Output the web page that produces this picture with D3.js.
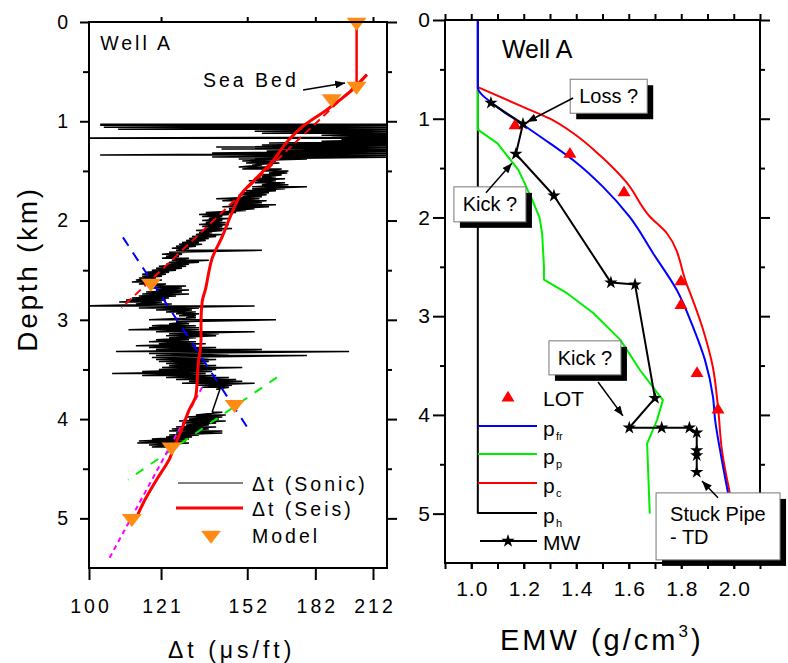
<!DOCTYPE html>
<html><head><meta charset="utf-8">
<script src="https://cdn.jsdelivr.net/npm/d3@7/dist/d3.min.js"></script>
<style>
html,body{margin:0;padding:0;background:#fff;}
svg{display:block;}
</style></head>
<body>
<svg id="chart" width="788" height="663"></svg>
<script>
// ================= LEFT PANEL DATA (Δt in µs/ft, depth in km) =================
const leftXTicks = [100, 121, 152, 182, 212];
const leftXTop = [121, 152, 182, 212];
const leftYTicks = [0, 1, 2, 3, 4, 5];
const leftYMinor = [0.5, 1.5, 2.5, 3.5, 4.5];

// Sonic log: per depth row, the left-most and right-most excursion of the trace
const sonicDepth = [1.03,1.04,1.06,1.08,1.10,1.12,1.14,1.16,1.17,1.18,
  1.20,1.22,1.24,1.26,1.28,1.30,1.32,1.34,1.36,1.38,
  1.40,1.42,1.44,1.46,1.48,1.50,1.52,1.54,1.56,1.58,
  1.60,1.62,1.64,1.66,1.68,1.70,1.72,1.74,1.76,1.78,
  1.80,1.82,1.84,1.86,1.88,1.90,1.92,1.94,1.96,1.98,
  2.00,2.02,2.04,2.06,2.08,2.10,2.12,2.14,2.16,2.18,
  2.20,2.22,2.24,2.26,2.28,2.30,2.32,2.34,2.36,2.38,
  2.40,2.42,2.44,2.46,2.48,2.50,2.52,2.54,2.56,2.58,
  2.60,2.62,2.64,2.66,2.68,2.70,2.72,2.74,2.76,2.78,
  2.80,2.82,2.84,2.86,2.88,2.90,2.92,2.94,2.96,2.98,
  3.00,3.02,3.04,3.06,3.08,3.10,3.12,3.14,3.16,3.18,
  3.20,3.22,3.24,3.26,3.28,3.30,3.32,3.34,3.36,3.38,
  3.40,3.42,3.44,3.46,3.48,3.50,3.52,3.54,3.56,3.58,
  3.60,3.62,3.64,3.66,3.68,3.70,3.93,3.96,3.98,4.00,
  4.02,4.04,4.06,4.08,4.10,4.12,4.14,4.16,4.18,4.20,
  4.22,4.24,4.26,4.28];
const sonicMin = [103,103,104,108,155,158,185,190,95,195,
  185,161,158,140,142,160,138.5,103,138.5,148.6,
  150,151.5,154,148.6,150,158,161,157,158,155,
  152.6,155,158,154,154,151.5,150,148.6,150,140,
  142.3,146,144.8,142.3,144.8,144.8,136.2,133.8,134.9,137.3,
  134.9,136.2,133.8,134.9,136.2,132.7,133.8,132.7,131.3,130.3,
  129.3,127.9,126.9,125.9,124.5,125.9,123.6,121.3,122.6,121.3,
  124.5,123.6,122.6,120.3,119.4,118.1,116.3,115.1,115.1,114.1,
  113.2,112,114.1,117.2,118.1,119.4,116.3,115.1,114.1,112,
  110.3,108.3,113.2,97,114.1,119.4,122.6,125.9,126.9,129.3,
  117.2,125.9,123.6,118.1,117.2,111,119.4,123.6,122.6,123.6,
  119.4,117.2,120.3,113.2,117.2,119.4,107.4,117.2,119.4,118.1,
  119.4,120.3,122.6,123.6,121.3,120.3,115.1,106.3,115.1,122.6,
  125.9,130.3,127.9,132.7,134.9,140,138.5,132.7,129.3,130.3,
  126.9,127.9,129.3,125.9,124.5,123.6,125.9,123.6,122.6,118.1,
  114.1,113.6,117.2,118.1];
const sonicMax = [235,235,235,235,235,235,235,235,235,235,
  235,235,235,235,235,235,235,235,235,178,
  164,165.5,158,161,166.5,169.5,169,166.5,164,168,
  164,168,169.5,178,168,164,161,160,158,157,
  160,158,164,161,155,151.5,147.6,144.8,142.3,144.8,
  142.3,143.6,144.8,142.3,146,142.3,138.5,142.3,140,137.3,
  136.2,133.8,134.9,132.7,130.3,158,129.3,127.9,126.9,130.3,
  137.3,133.8,130.3,129.3,127.9,125.9,123.6,122.6,121.3,119.4,
  121.3,119.4,122.6,129.3,127.9,130.3,127.9,130.3,125.9,123.6,
  122.6,121.3,124.5,155,133.8,131.3,132.7,133.8,132.7,132.7,
  164,131.3,130.3,132.7,133.8,133.8,155,141,140,132.7,
  130.3,132.7,136.2,132.7,140,158,199,144.8,178,137.3,
  140,137.3,136.2,140,150,140,138.5,136.2,140,144.8,
  147.6,150,155,146,144.8,141.4,142.3,143.6,142.3,141,
  143.6,140,137.3,140,137.3,142.3,142.3,133.8,131.3,130.3,
  129.3,130.3,126.9,122.6];

// Seismic interval transit time
const seisDepth = [0.53,0.73,0.89,1.06,1.22,1.39,1.59,1.72,1.92,2.16,2.39,2.52,2.68,2.82,3.02,3.20,3.45,3.76,3.91,4.11,4.28,4.39,4.61,4.81,4.96];
const seisDt    = [208.6,197.9,187.2,175.6,168.4,163.0,155.0,150.0,146.0,142.3,138.4,137.3,136.2,134.9,134.5,134.5,133.5,132.7,130.3,127.7,125.3,123.9,119.6,116.0,113.8];
const waterDepth = [0, 0.64];
const waterDt    = [203, 203];

// Model points
const modelDepth = [0, 0.645, 0.77, 2.63, 3.85, 4.28, 5.0];
const modelDt    = [203, 203, 190, 117.8, 147, 124.4, 112];

// Trend lines (dashed)
const redTrendDepth = [0.53, 2.88],  redTrendDt = [208.6, 109];
const blueTrendDepth = [2.17, 4.12], blueTrendDt = [109.4, 153];
const greenTrendDepth = [3.58, 4.61], greenTrendDt = [164.4, 110.9];
const magentaTrendDepth = [3.68, 5.43], magentaTrendDt = [134.9, 105.1];

// ================= RIGHT PANEL DATA (EMW g/cm3, depth km) =================
const rightXLabels = [1.0, 1.2, 1.4, 1.6, 1.8, 2.0];
const rightXMinor = [0.9,1.0,1.1,1.2,1.3,1.4,1.5,1.6,1.7,1.8,1.9,2.0,2.1];
const rightYTicks = [0, 1, 2, 3, 4, 5];
const rightYMinor = [0.5, 1.5, 2.5, 3.5, 4.5];

const phDepth = [0, 5.0];
const phEMW   = [1.025, 1.025];
const pfrDepth = [0, 0.68, 0.88, 1.06, 1.25, 1.45, 1.69, 2.0, 2.36, 2.74, 3.11, 3.44, 3.82, 4.05, 4.36, 4.79];
const pfrEMW   = [1.025, 1.025, 1.098, 1.197, 1.30, 1.403, 1.502, 1.605, 1.692, 1.784, 1.845, 1.890, 1.921, 1.929, 1.948, 1.978];
const pcDepth = [0.68, 0.88, 1.0, 1.15, 1.37, 1.64, 1.99, 2.16, 2.67, 3.11, 3.51, 3.92, 4.36, 4.79];
const pcEMW   = [1.025, 1.197, 1.30, 1.39, 1.49, 1.59, 1.68, 1.745, 1.82, 1.88, 1.92, 1.94, 1.955, 1.985];
const ppDepth = [0.68, 1.11, 1.25, 1.52, 1.79, 2.0, 2.16, 2.50, 2.63, 2.77, 2.97, 3.24, 3.55, 3.85, 4.05, 4.29, 5.0];
const ppEMW   = [1.025, 1.025, 1.10, 1.18, 1.227, 1.26, 1.27, 1.277, 1.277, 1.366, 1.466, 1.568, 1.644, 1.73, 1.708, 1.67, 1.68];
const lotDepth = [1.07, 1.36, 1.75, 2.65, 2.89, 3.58, 3.95];
const lotEMW   = [1.167, 1.376, 1.582, 1.799, 1.799, 1.86, 1.94];
const mwDepth = [0.84, 1.053, 1.357, 1.78, 2.66, 2.68, 3.83, 4.13, 4.13, 4.13, 4.18, 4.36, 4.41, 4.58];
const mwEMW   = [1.075, 1.197, 1.170, 1.315, 1.532, 1.624, 1.70, 1.602, 1.7255, 1.831, 1.859, 1.859, 1.859, 1.859];

// Callouts: [label lines], box anchor (EMW, depth), box size px, arrow from/to (EMW, depth)
const calloutText  = [["Loss ?"], ["Kick ?"], ["Kick ?"], ["Stuck Pipe", "- TD"]];
const calloutBox   = [[1.377, 0.60], [0.934, 1.69], [1.296, 3.25], [1.704, 4.79]];
const calloutSize  = [[77, 34], [72, 35], [72, 34], [124, 67]];
const calloutFrom  = [[1.388, 0.79], [1.056, 1.75], [1.483, 3.667], [1.94, 4.84]];
const calloutTo    = [[1.212, 1.033], [1.155, 1.45], [1.578, 4.01], [1.879, 4.67]];

// ================= DRAWING =================
const FONT = '"Liberation Sans", Arial, Helvetica, sans-serif';
const svg = d3.select('#chart');
const defs = svg.append('defs');
defs.append('marker').attr('id','ah').attr('viewBox','0 0 10 8')
  .attr('refX',10).attr('refY',4).attr('markerWidth',10).attr('markerHeight',8)
  .attr('markerUnits','userSpaceOnUse').attr('orient','auto')
  .append('path').attr('d','M0,0L10,4L0,8Z').attr('fill','#000');

function styleAxis(sel, fs, ls) {
  sel.select('.domain').remove();
  sel.selectAll('.tick line').attr('stroke','#000').attr('stroke-width',2);
  sel.selectAll('.tick text').attr('fill','#000').attr('font-family',FONT)
     .attr('font-size',fs).attr('letter-spacing',ls||0);
  return sel;
}

// ---------- Left panel ----------
const L = {x0:89, x1:387, y0:22, y1:568};
const xL = d3.scaleLog().domain([100,220]).range([L.x0,L.x1]);
const yL = d3.scaleLinear().domain([0,5.5]).range([L.y0,L.y1]);

defs.append('clipPath').attr('id','clipL').append('rect')
  .attr('x',L.x0).attr('y',L.y0).attr('width',L.x1-L.x0).attr('height',L.y1-L.y0);

const gL = svg.append('g');
const plotL = gL.append('g').attr('clip-path','url(#clipL)');

// sonic trace
const sonicPts = [];
sonicDepth.forEach((d,i)=>{ sonicPts.push([sonicMin[i],d]); sonicPts.push([sonicMax[i],d]); });
const lineL = d3.line().x(p=>xL(p[0])).y(p=>yL(p[1]));
plotL.append('path').attr('d',lineL(sonicPts)).attr('fill','none')
  .attr('stroke','#000').attr('stroke-width',1.5).attr('stroke-linejoin','bevel');

function trend(depth, dt, color, dash) {
  plotL.append('path').attr('d', lineL(depth.map((d,i)=>[dt[i],d])))
    .attr('fill','none').attr('stroke',color).attr('stroke-width',2)
    .attr('stroke-dasharray',dash);
}
trend(redTrendDepth, redTrendDt, '#ff0000', '8,5');
trend(blueTrendDepth, blueTrendDt, '#0000ff', '10,8');
trend(greenTrendDepth, greenTrendDt, '#00ee00', '9,9');
trend(magentaTrendDepth, magentaTrendDt, '#ff00ff', '5,4');

// seismic
plotL.append('path').attr('d', lineL(waterDepth.map((d,i)=>[waterDt[i],d])))
  .attr('fill','none').attr('stroke','#ff0000').attr('stroke-width',2.5);
plotL.append('path').attr('d', lineL.curve(d3.curveMonotoneY)(seisDepth.map((d,i)=>[seisDt[i],d])))
  .attr('fill','none').attr('stroke','#ff0000').attr('stroke-width',3)
  .attr('stroke-linejoin','round');
lineL.curve(d3.curveLinear);

// model triangles
const triDown = 'M-10,-4.3L10,-4.3L0,8.7Z';
gL.selectAll('.model').data(modelDepth).enter().append('path')
  .attr('d',triDown).attr('fill','#ff8a14')
  .attr('transform',(d,i)=>`translate(${xL(modelDt[i])},${yL(d)})`);

// frame & axes
gL.append('rect').attr('x',L.x0).attr('y',L.y0).attr('width',L.x1-L.x0).attr('height',L.y1-L.y0)
  .attr('fill','none').attr('stroke','#000').attr('stroke-width',2);
styleAxis(gL.append('g').attr('transform',`translate(${L.x0},0)`)
  .call(d3.axisLeft(yL).tickValues(leftYTicks).tickSize(9).tickPadding(12).tickFormat(d3.format('d'))), 19.5, 0);
styleAxis(gL.append('g').attr('transform',`translate(${L.x0},0)`)
  .call(d3.axisLeft(yL).tickValues(leftYMinor).tickSize(6).tickFormat('')));
styleAxis(gL.append('g').attr('transform',`translate(${L.x1},0)`)
  .call(d3.axisRight(yL).tickValues(leftYTicks).tickSize(10).tickFormat('')));
styleAxis(gL.append('g').attr('transform',`translate(${L.x1},0)`)
  .call(d3.axisRight(yL).tickValues(leftYMinor).tickSize(5).tickFormat('')));
styleAxis(gL.append('g').attr('transform',`translate(0,${L.y0})`)
  .call(d3.axisTop(xL).tickValues(leftXTop).tickSize(5).tickFormat('')));
const bx = styleAxis(gL.append('g').attr('transform',`translate(0,${L.y1})`)
  .call(d3.axisBottom(xL).tickValues(leftXTicks).tickSize(12).tickPadding(19).tickFormat(d3.format('d'))), 19.5, 3);
bx.selectAll('.tick text').attr('dx',1.5);

// texts
gL.append('text').attr('x',xL(103)).attr('y',yL(0.28)).text('Well A')
  .attr('font-family',FONT).attr('font-size',19.5).attr('letter-spacing',3);
gL.append('text').attr('x',xL(135.2)).attr('y',yL(0.655)).text('Sea Bed')
  .attr('font-family',FONT).attr('font-size',19.5).attr('letter-spacing',3);
gL.append('line').attr('x1',xL(176.2)).attr('y1',yL(0.685)).attr('x2',xL(196.9)).attr('y2',yL(0.614))
  .attr('stroke','#000').attr('stroke-width',1.5).attr('marker-end','url(#ah)');

// legend
const legL = gL.append('g').attr('font-family',FONT).attr('font-size',19.5).attr('letter-spacing',3);
legL.append('line').attr('x1',178).attr('x2',243).attr('y1',483).attr('y2',483).attr('stroke','#000').attr('stroke-width',1);
legL.append('text').attr('x',252).attr('y',491).text('Δt (Sonic)');
legL.append('line').attr('x1',176).attr('x2',243).attr('y1',508).attr('y2',508).attr('stroke','#ff0000').attr('stroke-width',3);
legL.append('text').attr('x',252).attr('y',516).text('Δt (Seis)');
legL.append('path').attr('d',triDown).attr('fill','#ff8a14').attr('transform','translate(211,535)');
legL.append('text').attr('x',252).attr('y',543).text('Model');

// axis titles
svg.append('text').attr('x',168).attr('y',658).text('Δt (μs/ft)')
  .attr('font-family',FONT).attr('font-size',23).attr('letter-spacing',4);
svg.append('text').attr('transform','translate(37,269) rotate(-90)').attr('text-anchor','middle')
  .text('Depth (km)').attr('font-family',FONT).attr('font-size',28).attr('letter-spacing',2.7);

// ---------- Right panel ----------
const R = {x0:445, x1:760, y0:20, y1:563};
const xR = d3.scaleLinear().domain([0.9,2.1]).range([R.x0,R.x1]);
const yR = d3.scaleLinear().domain([0,5.5]).range([R.y0,R.y1]);
const gR = svg.append('g');
function curveR(depth, emw, color, w, curve) {
  const ln = d3.line().x(p=>xR(p[0])).y(p=>yR(p[1])).curve(curve || d3.curveLinear);
  gR.append('path').attr('d', ln(depth.map((d,i)=>[emw[i],d])))
    .attr('fill','none').attr('stroke',color).attr('stroke-width',w).attr('stroke-linejoin','round');
}
curveR(phDepth, phEMW, '#000', 2);
curveR(ppDepth, ppEMW, '#00ee00', 2);
curveR(pcDepth, pcEMW, '#ff0000', 2, d3.curveMonotoneY);
curveR(pfrDepth, pfrEMW, '#0000ff', 2, d3.curveMonotoneY);

const triUp = 'M-6.5,3.6L6.5,3.6L0,-7.2Z';
gR.selectAll('.lot').data(lotDepth).enter().append('path')
  .attr('d',triUp).attr('fill','#ff0000')
  .attr('transform',(d,i)=>`translate(${xR(lotEMW[i])},${yR(d)})`);

curveR(mwDepth, mwEMW, '#000', 2);
const star = d3.symbol().type(d3.symbolStar).size(55)();
gR.selectAll('.mw').data(mwDepth).enter().append('path')
  .attr('d',star).attr('fill','#000')
  .attr('transform',(d,i)=>`translate(${xR(mwEMW[i])},${yR(d)})`);

// frame & axes
gR.append('rect').attr('x',R.x0).attr('y',R.y0).attr('width',R.x1-R.x0).attr('height',R.y1-R.y0)
  .attr('fill','none').attr('stroke','#000').attr('stroke-width',2);
styleAxis(gR.append('g').attr('transform',`translate(${R.x0},0)`)
  .call(d3.axisLeft(yR).tickValues(rightYTicks).tickSize(12).tickPadding(3).tickFormat(d3.format('d'))), 21, 0);
styleAxis(gR.append('g').attr('transform',`translate(${R.x0},0)`)
  .call(d3.axisLeft(yR).tickValues(rightYMinor).tickSize(5).tickFormat('')));
styleAxis(gR.append('g').attr('transform',`translate(${R.x1},0)`)
  .call(d3.axisRight(yR).tickValues(rightYTicks).tickSize(10).tickFormat('')));
styleAxis(gR.append('g').attr('transform',`translate(${R.x1},0)`)
  .call(d3.axisRight(yR).tickValues(rightYMinor).tickSize(5).tickFormat('')));
styleAxis(gR.append('g').attr('transform',`translate(0,${R.y0})`)
  .call(d3.axisTop(xR).tickValues(rightXMinor).tickSize(6).tickFormat('')));
styleAxis(gR.append('g').attr('transform',`translate(0,${R.y1})`)
  .call(d3.axisBottom(xR).tickValues(rightXMinor).tickSize(6).tickFormat('')));
const rbx = styleAxis(gR.append('g').attr('transform',`translate(0,${R.y1})`)
  .call(d3.axisBottom(xR).tickValues(rightXLabels).tickSize(6).tickPadding(12).tickFormat(d3.format('.1f'))), 21, 1);
rbx.selectAll('.tick text').attr('dx',0.5);

gR.append('text').attr('x',xR(1.117)).attr('y',yR(0.385)).text('Well A')
  .attr('font-family',FONT).attr('font-size',25);

// callouts
calloutText.forEach((lines,i)=>{
  const bx0 = xR(calloutBox[i][0]), by0 = yR(calloutBox[i][1]);
  const [w,h] = calloutSize[i];
  gR.append('rect').attr('x',bx0+6).attr('y',by0+6).attr('width',w).attr('height',h).attr('fill','#000');
  gR.append('rect').attr('x',bx0).attr('y',by0).attr('width',w).attr('height',h)
    .attr('fill','#fff').attr('stroke','#777').attr('stroke-width',1);
  lines.forEach((t,j)=>{
    gR.append('text').attr('x', bx0 + (lines.length>1 ? 14 : w/2))
      .attr('text-anchor', lines.length>1 ? 'start' : 'middle')
      .attr('y', lines.length>1 ? by0+28+j*23 : by0+h/2+7)
      .text(t).attr('font-family',FONT).attr('font-size',20);
  });
  gR.append('line').attr('x1',xR(calloutFrom[i][0])).attr('y1',yR(calloutFrom[i][1]))
    .attr('x2',xR(calloutTo[i][0])).attr('y2',yR(calloutTo[i][1]))
    .attr('stroke','#000').attr('stroke-width',1.5).attr('marker-end','url(#ah)');
});

// legend
const legR = gR.append('g').attr('font-family',FONT).attr('font-size',21);
legR.append('path').attr('d',triUp).attr('fill','#ff0000').attr('transform','translate(508,398)');
legR.append('text').attr('x',543).attr('y',406).text('LOT');
const legLines = [['fr','#0000ff',426],['p','#00ee00',454],['c','#ff0000',483],['h','#000',513]];
legLines.forEach(([sub,col,y])=>{
  legR.append('line').attr('x1',478).attr('x2',537).attr('y1',y).attr('y2',y).attr('stroke',col).attr('stroke-width',2);
  legR.append('text').attr('x',543).attr('y',y+10).text('p');
  legR.append('text').attr('x',556).attr('y',y+14).attr('font-size',11).text(sub);
});
legR.append('line').attr('x1',480).attr('x2',537).attr('y1',541).attr('y2',541).attr('stroke','#000').attr('stroke-width',2);
legR.append('path').attr('d',star).attr('fill','#000').attr('transform','translate(508,541)');
legR.append('text').attr('x',543).attr('y',550).text('MW');

// x title
const t = svg.append('text').attr('x',500).attr('y',650).attr('font-family',FONT)
  .attr('font-size',29).attr('letter-spacing',3);
t.append('tspan').text('EMW (g/cm');
t.append('tspan').attr('font-size',17).attr('dy',-13).text('3');
t.append('tspan').attr('dy',13).text(')');
</script>
</body></html>
